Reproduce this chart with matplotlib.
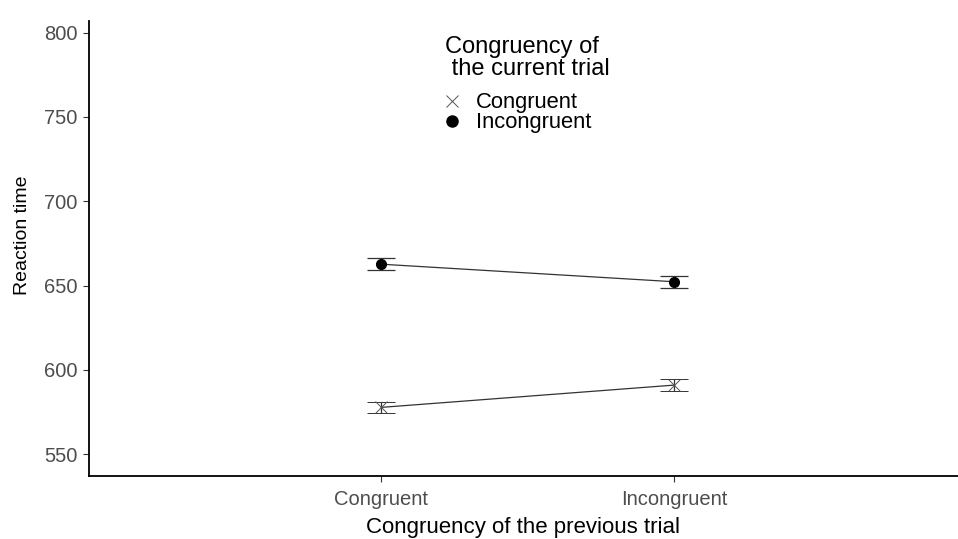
import matplotlib
matplotlib.use("Agg")
import matplotlib.pyplot as plt
from matplotlib.lines import Line2D

plt.rcParams['font.family'] = ['Liberation Sans', 'DejaVu Sans']

# data
previous = ["Congruent", "Incongruent"]
rt_congruent = [577.8, 591.0]
se_congruent = [3.4, 3.5]
rt_incongruent = [662.7, 652.3]
se_incongruent = [3.5, 3.5]
y_ticks = [550, 600, 650, 700, 750, 800]

fig = plt.figure(figsize=(9.58, 5.39), dpi=100)
ax = fig.add_axes([88.7 / 958, 63 / 539, (958 - 88.7) / 958, (476 - 20.7) / 539])

xpos = list(range(1, len(previous) + 1))

ax.errorbar(xpos, rt_congruent, yerr=se_congruent, color="#333333", lw=0.9,
            marker="x", ms=8, mew=0.7, mec="#555555", capsize=10.4, capthick=0.9,
            elinewidth=0.9)
ax.errorbar(xpos, rt_incongruent, yerr=se_incongruent, color="#333333", lw=0.9,
            marker="o", ms=7, mfc="black", mec="black", capsize=10.4, capthick=0.9,
            elinewidth=0.9)

ax.set_xlim(0, 2.97)
ax.set_ylim(537.1, 807.1)
ax.set_xticks(xpos)
ax.set_xticklabels(previous)
ax.set_yticks(y_ticks)
ax.tick_params(axis="both", labelsize=14.5, labelcolor="#4D4D4D", color="#333333",
               length=4, width=0.8)
ax.tick_params(axis="x", pad=6)
ax.tick_params(axis="y", pad=4)

for side in ["top", "right"]:
    ax.spines[side].set_visible(False)
for side in ["left", "bottom"]:
    ax.spines[side].set_linewidth(1.3)
    ax.spines[side].set_color("black")

ax.set_xlabel("Congruency of the previous trial", fontsize=16, labelpad=6)
ax.set_ylabel("Reaction time", fontsize=14)
ax.yaxis.set_label_coords(-0.066, 0.529)

# legend title drawn as two lines of text, entries as a legend below it
fig.text(445 / 958, 1 - 53.3 / 539, "Congruency of", fontsize=17, va="baseline")
fig.text(445 / 958, 1 - 75 / 539, " the current trial", fontsize=17, va="baseline")

handles = [
    Line2D([], [], ls="none", marker="x", ms=9, mew=0.7, color="#555555"),
    Line2D([], [], ls="none", marker="o", ms=8, color="black"),
]
leg = fig.legend(handles, ["Congruent", "Incongruent"],
                 loc="upper left", bbox_to_anchor=(441 / 958, 1 - 92.5 / 539),
                 frameon=False, fontsize=15.8,
                 handlelength=1.0, handletextpad=0.6, labelspacing=-0.05,
                 borderaxespad=0, borderpad=0)

fig.savefig("out.png", dpi=100)
